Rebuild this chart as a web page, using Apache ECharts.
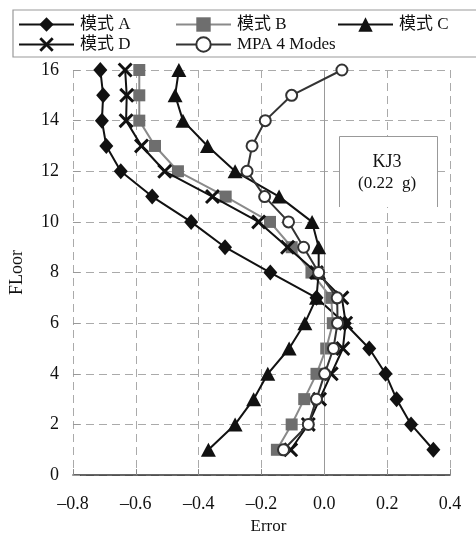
<!DOCTYPE html>
<html>
<head>
<meta charset="utf-8">
<script src="https://cdn.jsdelivr.net/npm/echarts@6/dist/echarts.min.js"></script>
<style>
  html, body { margin: 0; padding: 0; background: #fff; }
  #chart { width: 476px; height: 540px; }
</style>
</head>
<body>
<div id="chart"></div>
<script>
// Storey numbers (1 = ground storey, 16 = roof)
const floors = [1, 2, 3, 4, 5, 6, 7, 8, 9, 10, 11, 12, 13, 14, 15, 16];

// Relative error of each storey response, listed from floor 1 upwards
const modeA = [0.347, 0.276, 0.230, 0.195, 0.143, 0.065, -0.025, -0.172, -0.316, -0.424, -0.548, -0.648, -0.694, -0.708, -0.704, -0.713];
const modeB = [-0.151, -0.104, -0.064, -0.025, 0.006, 0.027, 0.022, -0.041, -0.104, -0.173, -0.314, -0.466, -0.539, -0.589, -0.589, -0.589];
const modeC = [-0.369, -0.284, -0.225, -0.180, -0.112, -0.062, -0.025, -0.018, -0.018, -0.039, -0.144, -0.284, -0.372, -0.450, -0.475, -0.463];
const modeD = [-0.107, -0.051, -0.015, 0.022, 0.059, 0.068, 0.056, -0.025, -0.117, -0.209, -0.356, -0.508, -0.582, -0.631, -0.629, -0.634];
const mpa4  = [-0.130, -0.051, -0.025, 0.001, 0.029, 0.042, 0.041, -0.018, -0.066, -0.114, -0.190, -0.246, -0.230, -0.188, -0.104, 0.056];

const seriesNames = ['模式 A', '模式 B', '模式 C', '模式 D', 'MPA 4 Modes'];
const xTicks = { min: -0.8, max: 0.4, step: 0.2 };
const yTicks = { min: 0, max: 16, step: 2 };

const SERIF = '"Liberation Serif", "Noto Sans CJK SC", serif';
const crossPath = 'path://M0,1.4 L1.4,0 L5,3.6 L8.6,0 L10,1.4 L6.4,5 L10,8.6 L8.6,10 L5,6.4 L1.4,10 L0,8.6 L3.6,5 Z';

const pairs = vals => vals.map((v, i) => [v, floors[i]]);

const chart = echarts.init(document.getElementById('chart'), null, { renderer: 'canvas' });

function legendAt(name, left, top) {
  return {
    data: [name],
    left: left, top: top,
    orient: 'horizontal',
    itemWidth: 55, itemHeight: 18, itemGap: 0,
    padding: 0,
    textStyle: { fontFamily: SERIF, fontSize: 17, color: '#111', padding: [0, 0, 0, 1] },
    selectedMode: false
  };
}

const option = {
  animation: false,
  backgroundColor: '#fff',
  grid: { left: 69, right: 26, top: 70, bottom: 62, containLabel: false },
  legend: [
    legendAt(seriesNames[0], 18, 16),
    legendAt(seriesNames[1], 175, 16),
    legendAt(seriesNames[2], 337, 16),
    legendAt(seriesNames[3], 18, 36),
    legendAt(seriesNames[4], 175, 36)
  ],
  xAxis: {
    type: 'value',
    min: xTicks.min, max: xTicks.max, interval: xTicks.step,
    name: 'Error', nameLocation: 'middle', nameGap: 42,
    nameTextStyle: { fontFamily: SERIF, fontSize: 17, color: '#111', padding: [0, 0, 0, 14] },
    axisLine: { onZero: false, lineStyle: { color: '#333', width: 1.5 } },
    axisTick: { show: true, inside: true, length: 6, lineStyle: { color: '#888' } },
    axisLabel: {
      fontFamily: SERIF, fontSize: 18, color: '#111', margin: 20,
      formatter: v => v.toFixed(1).replace('-', '\u2013')
    },
    splitLine: { show: true, lineStyle: { color: '#aaa', type: [8, 5], width: 1 } }
  },
  yAxis: {
    type: 'value',
    min: yTicks.min, max: yTicks.max, interval: yTicks.step,
    name: 'FLoor', nameLocation: 'middle', nameGap: 47,
    nameTextStyle: { fontFamily: SERIF, fontSize: 18, color: '#111' },
    axisLine: { show: false, onZero: false },
    axisTick: { show: true, inside: true, length: 7, lineStyle: { color: '#999' } },
    axisLabel: { fontFamily: SERIF, fontSize: 18, color: '#111', margin: 14 },
    splitLine: { show: true, lineStyle: { color: '#aaa', type: [8, 5], width: 1 } }
  },
  series: [
    {
      name: seriesNames[0], type: 'line', data: pairs(modeA),
      symbol: 'diamond', symbolSize: [14, 16],
      lineStyle: { color: '#111', width: 2 },
      itemStyle: { color: '#111' },
      markLine: {
        silent: true, symbol: 'none', label: { show: false },
        lineStyle: { color: '#999', type: 'solid', width: 1 },
        data: [{ xAxis: 0 }]
      },
      z: 3
    },
    {
      name: seriesNames[1], type: 'line', data: pairs(modeB),
      symbol: 'rect', symbolSize: 12,
      lineStyle: { color: '#8a8a8a', width: 2 },
      itemStyle: { color: '#6e6e6e' },
      z: 4
    },
    {
      name: seriesNames[2], type: 'line', data: pairs(modeC),
      symbol: 'triangle', symbolSize: [15, 14],
      lineStyle: { color: '#111', width: 2 },
      itemStyle: { color: '#111' },
      z: 5
    },
    {
      name: seriesNames[3], type: 'line', data: pairs(modeD),
      symbol: crossPath, symbolSize: 15,
      lineStyle: { color: '#111', width: 2 },
      itemStyle: { color: '#111' },
      z: 6
    },
    {
      name: seriesNames[4], type: 'line', data: pairs(mpa4),
      symbol: 'emptyCircle', symbolSize: 11,
      lineStyle: { color: '#333', width: 2 },
      itemStyle: { color: '#333', borderColor: '#333', borderWidth: 2 },
      z: 7
    }
  ],
  graphic: [
    // legend frame
    {
      type: 'rect', z: -1, silent: true,
      shape: { x: 13, y: 10, width: 470, height: 47 },
      style: { fill: '#fff', stroke: '#999', lineWidth: 1.2 }
    },
    // label box (open at the bottom)
    {
      type: 'rect', z: 50, silent: true,
      shape: { x: 339, y: 136, width: 98, height: 71 },
      style: { fill: '#fff', stroke: null }
    },
    {
      type: 'polyline', z: 51, silent: true,
      shape: { points: [[339.5, 207], [339.5, 136.5], [437.5, 136.5], [437.5, 207]] },
      style: { stroke: '#999', lineWidth: 1, fill: null }
    },
    {
      type: 'text', z: 52, silent: true, x: 387, y: 162,
      style: { text: 'KJ3', fontFamily: SERIF, fontSize: 18, fill: '#111', align: 'center', verticalAlign: 'middle' }
    },
    {
      type: 'text', z: 52, silent: true, x: 387, y: 184,
      style: { text: '(0.22  g)', fontFamily: SERIF, fontSize: 17, fill: '#111', align: 'center', verticalAlign: 'middle' }
    }
  ]
};

chart.setOption(option);
</script>
</body>
</html>
